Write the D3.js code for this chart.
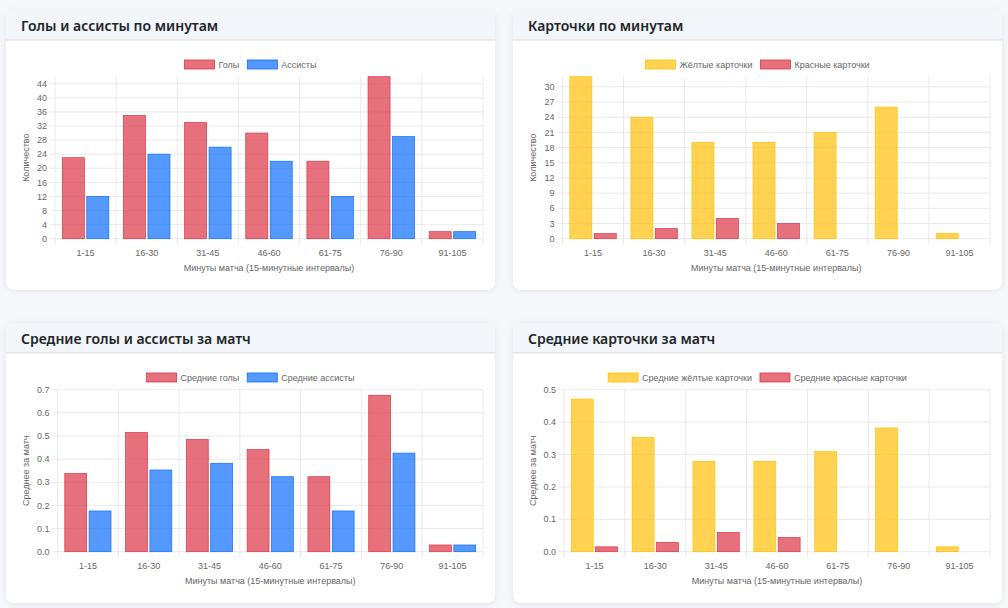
<!DOCTYPE html>
<html><head><meta charset="utf-8">
<script src="https://cdn.jsdelivr.net/npm/d3@7/dist/d3.min.js"></script>
<style>
body{margin:0;background:#f5f7fa;}
svg{display:block}
</style></head><body>
<svg id="c" width="1008" height="608"></svg>
<script>
// ---- data ----
const categories = ["1-15","16-30","31-45","46-60","61-75","76-90","91-105"];
const goals       = [23, 35, 33, 30, 22, 46, 2];
const assists     = [12, 24, 26, 22, 12, 29, 2];
const yellowCards = [32, 24, 19, 19, 21, 26, 1];
const redCards    = [1, 2, 4, 3, 0, 0, 0];
const avgGoals    = [0.338, 0.515, 0.485, 0.441, 0.324, 0.676, 0.029];
const avgAssists  = [0.176, 0.353, 0.382, 0.324, 0.176, 0.426, 0.029];
const avgYellow   = [0.471, 0.353, 0.279, 0.279, 0.309, 0.382, 0.015];
const avgRed      = [0.015, 0.029, 0.059, 0.044, 0, 0, 0];
const ticksCount  = [0,4,8,12,16,20,24,28,32,36,40,44];
const ticksCards  = [0,3,6,9,12,15,18,21,24,27,30];
const ticksAvgGA  = [0,0.1,0.2,0.3,0.4,0.5,0.6,0.7];
const ticksAvgC   = [0,0.1,0.2,0.3,0.4,0.5];
const xTitle = "Минуты матча (15-минутные интервалы)";

const RED = {fill:"rgba(220,53,69,0.7)", stroke:"#dc3545"};
const BLUE = {fill:"rgba(13,110,253,0.7)", stroke:"#0d6efd"};
const YEL = {fill:"rgba(255,193,7,0.7)", stroke:"#ffc107"};

const panels = [
  {x:6, y:10, title:"Голы и ассисты по минутам", yTitle:"Количество", ymax:46, ticks:ticksCount, fmt:d=>d, left:49,
   series:[{name:"Голы", values:goals, c:RED},{name:"Ассисты", values:assists, c:BLUE}]},
  {x:513, y:10, title:"Карточки по минутам", yTitle:"Количество", ymax:32, ticks:ticksCards, fmt:d=>d, left:49.5,
   series:[{name:"Жёлтые карточки", values:yellowCards, c:YEL},{name:"Красные карточки", values:redCards, c:RED}]},
  {x:6, y:323, title:"Средние голы и ассисты за матч", yTitle:"Среднее за матч", ymax:0.7, ticks:ticksAvgGA, fmt:d3.format(".1f"), left:51.5,
   series:[{name:"Средние голы", values:avgGoals, c:RED},{name:"Средние ассисты", values:avgAssists, c:BLUE}]},
  {x:513, y:323, title:"Средние карточки за матч", yTitle:"Среднее за матч", ymax:0.5, ticks:ticksAvgC, fmt:d3.format(".1f"), left:51,
   series:[{name:"Средние жёлтые карточки", values:avgYellow, c:YEL},{name:"Средние красные карточки", values:avgRed, c:RED}]}
];

const svg = d3.select("#c");
const defs = svg.append("defs");
const f = defs.append("filter").attr("id","sh").attr("x","-10%").attr("y","-10%").attr("width","120%").attr("height","130%");
f.append("feDropShadow").attr("dx",0).attr("dy",1).attr("stdDeviation",3).attr("flood-color","#000").attr("flood-opacity",0.08);

const CW = 489, CH = 280, HH = 30;
const FONT = "'Liberation Sans', Arial, sans-serif";
const FS = 9;
const GRID = "#e5e5e5";
const TXT = "#666";

panels.forEach(p => {
  const g = svg.append("g").attr("transform", `translate(${p.x},${p.y})`);
  g.append("rect").attr("width",CW).attr("height",CH).attr("rx",8).attr("fill","#fff").attr("filter","url(#sh)");
  const r = 8;
  g.append("path").attr("d",`M0,${HH} V${r} A${r},${r} 0 0 1 ${r},0 H${CW-r} A${r},${r} 0 0 1 ${CW},${r} V${HH} Z`).attr("fill","#f2f5f9");
  g.append("line").attr("x1",0).attr("x2",CW).attr("y1",HH).attr("y2",HH).attr("stroke","#d9dde2").attr("stroke-width",1);
  g.append("text").attr("x",15).attr("y",20.5).text(p.title)
    .attr("font-family","'Noto Sans', 'Open Sans', sans-serif").attr("font-weight",600).attr("font-size",14).attr("fill","#212529");

  const L = p.left, R = 477, T = 66.7, B = 228.7;
  const x = d3.scaleBand().domain(categories).range([L,R]);
  const y = d3.scaleLinear().domain([0,p.ymax]).range([B,T]);

  // horizontal grid
  g.append("g").selectAll("line").data(p.ticks).join("line")
    .attr("x1",L-5).attr("x2",R).attr("y1",d=>y(d)).attr("y2",d=>y(d))
    .attr("stroke",GRID).attr("stroke-width",0.8);
  // vertical grid (category boundaries)
  const bounds = categories.map(c=>x(c)).concat([R]);
  g.append("g").selectAll("line").data(bounds).join("line")
    .attr("x1",d=>d).attr("x2",d=>d).attr("y1",T).attr("y2",B+6)
    .attr("stroke",GRID).attr("stroke-width",0.8);

  // y ticks
  g.append("g").selectAll("text").data(p.ticks).join("text")
    .attr("x",L-8).attr("y",d=>y(d)).attr("dy","0.35em").attr("text-anchor","end")
    .attr("font-family",FONT).attr("font-size",FS).attr("fill",TXT).text(p.fmt);
  // x ticks
  g.append("g").selectAll("text").data(categories).join("text")
    .attr("x",d=>x(d)+x.bandwidth()/2).attr("y",242.5).attr("dy","0.35em").attr("text-anchor","middle")
    .attr("font-family",FONT).attr("font-size",FS).attr("fill",TXT).text(d=>d);
  // axis titles
  g.append("text").attr("x",(L+R)/2).attr("y",258.3).attr("dy","0.35em").attr("text-anchor","middle")
    .attr("font-family",FONT).attr("font-size",FS).attr("fill",TXT).text(xTitle);
  g.append("text").attr("transform",`translate(19.5,${(T+B)/2}) rotate(-90)`).attr("dy","0.35em").attr("text-anchor","middle")
    .attr("font-family",FONT).attr("font-size",FS).attr("fill",TXT).text(p.yTitle);

  // bars (category 80%, bar 90%)
  const xs2 = d3.scaleBand().domain(p.series.map((s,i)=>i)).range([x.bandwidth()*0.1, x.bandwidth()*0.9]).paddingInner(0.1).paddingOuter(0.05);
  p.series.forEach((s,si) => {
    g.append("g").selectAll("rect").data(s.values.map((v,i)=>({v,c:categories[i]})).filter(d=>d.v>0)).join("rect")
      .attr("x",d=>x(d.c)+xs2(si)).attr("width",xs2.bandwidth())
      .attr("y",d=>y(d.v)).attr("height",d=>B-y(d.v))
      .attr("fill",s.c.fill).attr("stroke",s.c.stroke).attr("stroke-width",0.7);
  });

  // legend
  const lg = g.append("g");
  let cx = 0;
  p.series.forEach(s => {
    const it = lg.append("g").attr("transform",`translate(${cx},0)`);
    it.append("rect").attr("x",0).attr("y",-4.5).attr("width",30).attr("height",9)
      .attr("fill",s.c.fill).attr("stroke",s.c.stroke).attr("stroke-width",0.8);
    const t = it.append("text").attr("x",34).attr("dy","0.35em").attr("font-family",FONT).attr("font-size",FS).attr("fill",TXT).text(s.name);
    cx += 34 + t.node().getComputedTextLength() + 8;
  });
  const lw = cx - 8;
  lg.attr("transform",`translate(${CW/2 - lw/2},54.5)`);
});
</script>
</body></html>
